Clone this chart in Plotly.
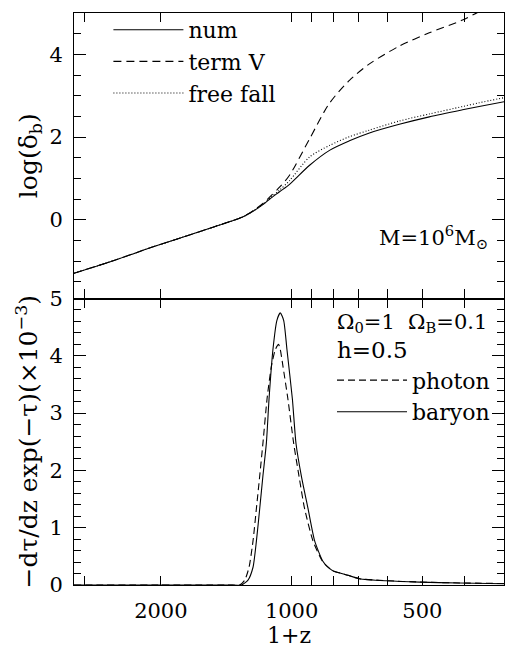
import plotly.graph_objects as go

# ---------------- data ----------------
# top panel: log(delta_b) vs 1+z
z_top = [3170, 2564, 2075, 1679, 1511, 1358, 1289, 1222, 1160, 1124, 1066, 1011, 909, 818, 736, 662, 565, 482, 404, 370, 322]
num = [-1.29, -0.98, -0.645, -0.33, -0.17, -0.01, 0.08, 0.22, 0.38, 0.50, 0.68, 0.86, 1.32, 1.68, 1.91, 2.10, 2.31, 2.49, 2.66, 2.74, 2.86]
term_v = [-1.29, -0.98, -0.645, -0.33, -0.17, -0.01, 0.085, 0.235, 0.41, 0.55, 0.79, 1.08, 1.96, 2.82, 3.37, 3.77, 4.20, 4.52, 4.83, 5.03, 5.30]
free_fall = [-1.29, -0.98, -0.645, -0.33, -0.17, -0.01, 0.08, 0.225, 0.39, 0.52, 0.72, 0.95, 1.52, 1.80, 2.01, 2.17, 2.39, 2.56, 2.74, 2.83, 2.96]

# bottom panel: visibility function (x 1e-3)
z_baryon = [3170, 1400, 1305, 1260, 1227, 1205, 1184, 1164, 1143, 1127, 1104, 1081, 1062, 1043, 1025, 996, 977, 950, 917, 885, 848, 827, 804, 742, 698, 606, 508, 411, 322]
baryon = [0, 0, 0, 0.086, 0.31, 0.77, 1.34, 1.91, 2.48, 3.25, 4.11, 4.62, 4.75, 4.62, 4.11, 3.25, 2.47, 1.91, 1.34, 0.77, 0.42, 0.32, 0.25, 0.17, 0.11, 0.074, 0.05, 0.034, 0.022]
z_photon = [3170, 1400, 1317, 1282, 1253, 1227, 1205, 1184, 1164, 1139, 1113, 1090, 1072, 1062, 1047, 1020, 989, 962, 934, 893, 850, 827, 804, 742, 698, 606, 508, 411, 322]
photon = [0, 0, 0, 0.086, 0.31, 0.77, 1.34, 1.91, 2.48, 3.25, 3.82, 4.11, 4.20, 4.11, 3.82, 3.25, 2.47, 1.91, 1.34, 0.77, 0.42, 0.32, 0.25, 0.17, 0.11, 0.075, 0.052, 0.036, 0.025]

x_tickvals = [3000, 2000, 1000, 900, 800, 700, 600, 500, 400]
x_ticktext = ["", "2000", "1000", "", "", "", "", "500", ""]
x_major = [1000]
top_y_major = [0, 2, 4]
bot_y_major = [0, 1, 2, 3, 4, 5]

# ---------------- style ----------------
FONT = "DejaVu Serif"
BLACK = "black"
LW = 1.1
XR = [3.501, 2.511]
SPLIT = (585 - 293) / 583.0

tickfont = dict(family=FONT, size=21, color=BLACK)
legfont = dict(family=FONT, size=22, color=BLACK)
ytitlefont = dict(family=FONT, size=25, color=BLACK)
xtitlefont = dict(family=FONT, size=22, color=BLACK)
annfont = dict(family=FONT, size=21, color=BLACK)

fig = go.Figure()

fig.add_trace(go.Scatter(x=z_top, y=num, mode="lines", name="num", xaxis="x2", yaxis="y2",
                         line=dict(color=BLACK, width=LW, shape="spline", smoothing=0.8), legend="legend"))
fig.add_trace(go.Scatter(x=z_top, y=term_v, mode="lines", name="term V", xaxis="x2", yaxis="y2",
                         line=dict(color=BLACK, width=LW, dash="8px,5px", shape="spline", smoothing=0.8), legend="legend"))
fig.add_trace(go.Scatter(x=z_top, y=free_fall, mode="lines", name="free fall", xaxis="x2", yaxis="y2",
                         line=dict(color=BLACK, width=LW, dash="1px,2px", shape="spline", smoothing=0.8), legend="legend"))

fig.add_trace(go.Scatter(x=z_photon, y=photon, mode="lines", name="photon", xaxis="x", yaxis="y",
                         line=dict(color=BLACK, width=LW, dash="7px,4px", shape="spline", smoothing=0.6), legend="legend2"))
fig.add_trace(go.Scatter(x=z_baryon, y=baryon, mode="lines", name="baryon", xaxis="x", yaxis="y",
                         line=dict(color=BLACK, width=LW, shape="spline", smoothing=0.6), legend="legend2"))

common_x = dict(type="log", range=XR, showgrid=False, zeroline=False, showline=True, linecolor=BLACK,
                linewidth=LW, mirror="allticks", ticks="inside", tickcolor=BLACK, tickwidth=LW)
common_y = dict(showgrid=False, zeroline=False, showline=True, linecolor=BLACK, linewidth=LW,
                mirror="allticks", ticks="inside", tickcolor=BLACK, tickwidth=LW)

fig.update_layout(
    width=506, height=654,
    margin=dict(l=74, r=1, t=2, b=69),
    paper_bgcolor="white", plot_bgcolor="white",
    font=dict(family=FONT, size=21, color=BLACK),
    xaxis=dict(common_x, anchor="y", tickmode="array", tickvals=x_tickvals, ticktext=x_ticktext,
               ticklen=9, tickfont=tickfont, ticklabelstandoff=7,
               title=dict(text="1+z", font=xtitlefont, standoff=4)),
    xaxis2=dict(common_x, anchor="y2", tickmode="array", tickvals=x_tickvals, ticklen=9,
                showticklabels=False, matches="x"),
    xaxis3=dict(common_x, anchor="y", overlaying="x", tickmode="array", tickvals=x_major, ticklen=16,
                showticklabels=False, showline=False),
    xaxis4=dict(common_x, anchor="y2", overlaying="x2", tickmode="array", tickvals=x_major, ticklen=16,
                showticklabels=False, showline=False),
    yaxis=dict(common_y, anchor="x", domain=[0, SPLIT], range=[0, 5], tickmode="array",
               tickvals=bot_y_major, ticklen=12, tickfont=tickfont, ticklabelstandoff=6,
               minor=dict(dtick=0.2, ticklen=7, ticks="inside", tickcolor=BLACK, tickwidth=LW),
               title=dict(text="\u2212d\u03c4/dz exp(\u2212\u03c4)(\u00d710<sup>\u22123</sup>)", font=ytitlefont, standoff=4)),
    yaxis2=dict(common_y, anchor="x2", domain=[SPLIT, 1], range=[-1.9, 5], tickmode="array",
                tickvals=top_y_major, ticklen=12, tickfont=tickfont, ticklabelstandoff=6,
                minor=dict(dtick=0.5, ticklen=7, ticks="inside", tickcolor=BLACK, tickwidth=LW),
                title=dict(text="log(\u03b4<sub>b</sub>)", font=ytitlefont, standoff=4)),
    legend=dict(x=0.08, y=1.007, xanchor="left", yanchor="top", bgcolor="rgba(0,0,0,0)",
                font=legfont, itemwidth=70, tracegroupgap=0),
    legend2=dict(x=0.6, y=(585 - 355) / 583.0, xanchor="left", yanchor="top", bgcolor="rgba(0,0,0,0)",
                 font=legfont, itemwidth=70, tracegroupgap=0),
    showlegend=True,
)

fig.add_annotation(text="M=10<sup>6</sup>M<sub>\u2299</sub>", xref="paper", yref="paper",
                   x=(434 - 74) / 431.0, y=(585 - 230) / 583.0, showarrow=False,
                   font=annfont, xanchor="center", yanchor="middle")
fig.add_annotation(text="\u03a9<sub>0</sub>=1  \u03a9<sub>B</sub>=0.1", xref="paper", yref="paper",
                   x=(336 - 74) / 431.0, y=(585 - 318) / 583.0, showarrow=False,
                   font=annfont, xanchor="left", yanchor="middle")
fig.add_annotation(text="h=0.5", xref="paper", yref="paper",
                   x=(336 - 74) / 431.0, y=(585 - 345) / 583.0, showarrow=False,
                   font=dict(family=FONT, size=23, color=BLACK), xanchor="left", yanchor="middle")

fig.write_html("out.html")
